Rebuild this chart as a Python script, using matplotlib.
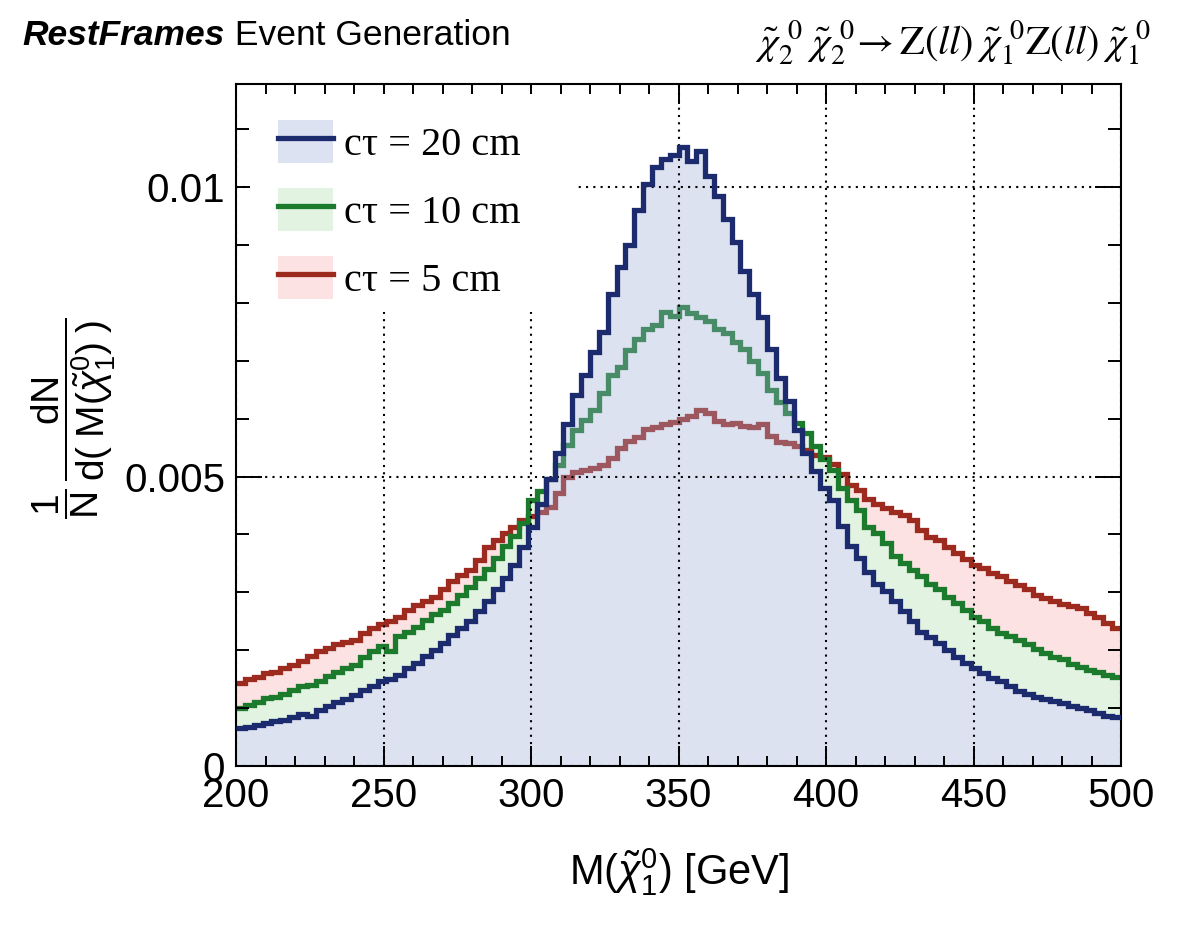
import numpy as np
import matplotlib
matplotlib.use("Agg")
import matplotlib.pyplot as plt
from matplotlib.patches import Patch, Rectangle
from matplotlib.lines import Line2D
from matplotlib.ticker import MultipleLocator
from matplotlib.transforms import offset_copy

plt.rcParams["font.family"] = ["Liberation Sans", "DejaVu Sans"]
plt.rcParams["mathtext.fontset"] = "custom"
plt.rcParams["mathtext.rm"] = "Liberation Sans"
plt.rcParams["mathtext.it"] = "Liberation Sans:italic"
plt.rcParams["mathtext.sf"] = "Liberation Sans"

# ── Data: 3 GeV bins from 200 to 500 GeV ────────────────────────────────────
edges = np.arange(200, 501, 3)

ctau20 = [0.00066, 0.00068, 0.00071, 0.00075, 0.00077, 0.00079, 0.00085, 0.00090, 0.00086, 0.00097,
          0.00103, 0.00110, 0.00115, 0.00122, 0.00131, 0.00139, 0.00146, 0.00150, 0.00158, 0.00170,
          0.00178, 0.00190, 0.00200, 0.00212, 0.00226, 0.00238, 0.00250, 0.00268, 0.00285, 0.00305,
          0.00325, 0.00348, 0.00378, 0.00412, 0.00452, 0.00495, 0.00540, 0.00590, 0.00640, 0.00675,
          0.00715, 0.00750, 0.00815, 0.00862, 0.00900, 0.00960, 0.01005, 0.01035, 0.01048, 0.01055,
          0.01070, 0.01045, 0.01062, 0.01020, 0.00985, 0.00945, 0.00905, 0.00855, 0.00815, 0.00775,
          0.00720, 0.00670, 0.00630, 0.00580, 0.00540, 0.00510, 0.00480, 0.00460, 0.00415, 0.00380,
          0.00360, 0.00335, 0.00315, 0.00302, 0.00285, 0.00268, 0.00250, 0.00232, 0.00222, 0.00212,
          0.00200, 0.00188, 0.00178, 0.00170, 0.00160, 0.00152, 0.00146, 0.00138, 0.00130, 0.00125,
          0.00120, 0.00116, 0.00112, 0.00108, 0.00103, 0.00100, 0.00096, 0.00092, 0.00086, 0.00084]

ctau10 = [0.00100, 0.00105, 0.00110, 0.00117, 0.00120, 0.00125, 0.00132, 0.00138, 0.00140, 0.00147,
          0.00155, 0.00162, 0.00170, 0.00175, 0.00188, 0.00198, 0.00208, 0.00198, 0.00225, 0.00232,
          0.00240, 0.00252, 0.00262, 0.00270, 0.00282, 0.00295, 0.00310, 0.00325, 0.00340, 0.00360,
          0.00380, 0.00398, 0.00420, 0.00460, 0.00475, 0.00495, 0.00520, 0.00555, 0.00580, 0.00598,
          0.00615, 0.00645, 0.00675, 0.00690, 0.00718, 0.00738, 0.00755, 0.00762, 0.00785, 0.00778,
          0.00792, 0.00782, 0.00776, 0.00768, 0.00755, 0.00748, 0.00732, 0.00720, 0.00700, 0.00678,
          0.00650, 0.00628, 0.00610, 0.00592, 0.00575, 0.00552, 0.00530, 0.00512, 0.00480, 0.00460,
          0.00442, 0.00412, 0.00402, 0.00385, 0.00362, 0.00350, 0.00338, 0.00328, 0.00315, 0.00305,
          0.00292, 0.00282, 0.00270, 0.00258, 0.00250, 0.00238, 0.00230, 0.00224, 0.00217, 0.00210,
          0.00202, 0.00196, 0.00189, 0.00184, 0.00176, 0.00171, 0.00166, 0.00162, 0.00158, 0.00154]

ctau5 = [0.00143, 0.00150, 0.00153, 0.00160, 0.00162, 0.00170, 0.00175, 0.00181, 0.00190, 0.00198,
         0.00204, 0.00210, 0.00215, 0.00218, 0.00230, 0.00238, 0.00246, 0.00250, 0.00258, 0.00270,
         0.00278, 0.00285, 0.00292, 0.00305, 0.00320, 0.00330, 0.00338, 0.00355, 0.00378, 0.00390,
         0.00402, 0.00412, 0.00425, 0.00432, 0.00438, 0.00448, 0.00472, 0.00500, 0.00508, 0.00512,
         0.00515, 0.00520, 0.00532, 0.00550, 0.00562, 0.00568, 0.00582, 0.00586, 0.00590, 0.00595,
         0.00600, 0.00604, 0.00615, 0.00610, 0.00596, 0.00590, 0.00592, 0.00588, 0.00585, 0.00590,
         0.00570, 0.00560, 0.00558, 0.00552, 0.00545, 0.00538, 0.00534, 0.00522, 0.00505, 0.00485,
         0.00477, 0.00462, 0.00452, 0.00445, 0.00438, 0.00434, 0.00425, 0.00408, 0.00396, 0.00390,
         0.00378, 0.00368, 0.00358, 0.00348, 0.00342, 0.00334, 0.00328, 0.00320, 0.00313, 0.00305,
         0.00296, 0.00290, 0.00285, 0.00280, 0.00277, 0.00273, 0.00265, 0.00257, 0.00247, 0.00238]

labels = ["c\u03c4 = 20 cm", "c\u03c4 = 10 cm", "c\u03c4 = 5 cm"]
line_colors = ["#1c2a6e", "#1b7a2c", "#9c2a1f"]
fill_colors = ["#9eacd7", "#e2f3e2", "#fce2e2"]

# ── Figure ───────────────────────────────────────────────────────────────────
fig = plt.figure(figsize=(11.82, 9.38), dpi=100)
ax = fig.add_axes([0.1997, 0.1834, 0.7487, 0.7270])

# fills: red, green, then white under blue so the blue overlay is uniform
ax.stairs(ctau5, edges, fill=True, color=fill_colors[2], zorder=1.0)
ax.stairs(ctau10, edges, fill=True, color=fill_colors[1], zorder=1.1)
ax.stairs(ctau20, edges, fill=True, color="white", zorder=1.2)
ax.stairs(ctau5, edges, baseline=None, color=line_colors[2], lw=3.8, zorder=1.3)
ax.stairs(ctau10, edges, baseline=None, color=line_colors[1], lw=3.8, zorder=1.4)
ax.stairs(ctau20, edges, fill=True, color=fill_colors[0], alpha=0.35, zorder=1.5)
ax.stairs(ctau20, edges, baseline=None, color=line_colors[0], lw=3.8, zorder=3)

ax.set_xlim(200, 500)
ax.set_ylim(0, 0.01178)

# ── Ticks / grid (ROOT style) ────────────────────────────────────────────────
ax.xaxis.set_major_locator(MultipleLocator(50))
ax.xaxis.set_minor_locator(MultipleLocator(10))
ax.yaxis.set_major_locator(MultipleLocator(0.005))
ax.yaxis.set_minor_locator(MultipleLocator(0.001))
ax.yaxis.set_major_formatter(plt.FuncFormatter(lambda v, p: "0" if v == 0 else f"{v:g}"))
ax.tick_params(axis="both", which="both", direction="in", top=True, right=True,
               width=1.4, labelsize=29)
ax.tick_params(axis="x", which="major", length=14.5, pad=8)
ax.tick_params(axis="x", which="minor", length=7.2)
ax.tick_params(axis="y", which="major", length=18.5, pad=8)
ax.tick_params(axis="y", which="minor", length=9.4)
for s in ax.spines.values():
    s.set_linewidth(1.5)

ax.set_axisbelow(False)
ax.grid(True, which="major", color="black", linestyle=(0, (1, 2.5)), lw=1.5)

# white box behind the legend hides the grid
ax.add_patch(Rectangle((0.016, 0.665), 0.369, 0.32, transform=ax.transAxes,
                       facecolor="white", edgecolor="none", zorder=4))

handles = [(Patch(facecolor=fc, edgecolor="none"), Line2D([], [], color=lc, lw=3.8))
           for fc, lc in zip(["#dce2f1", "#e2f3e2", "#fce2e2"], line_colors)]
leg = ax.legend(handles, labels, loc="upper left", bbox_to_anchor=(0.0475, 0.947),
                frameon=False, borderpad=0, borderaxespad=0,
                handlelength=1.375, handleheight=1.25, handletextpad=0.25,
                labelspacing=0.6, prop={"family": "Liberation Serif", "size": 29})
leg.set_zorder(5)

# ── Labels ───────────────────────────────────────────────────────────────────
ax.set_xlabel(r"M($\tilde{\chi}_{1}^{0}$) [GeV]", fontsize=30, labelpad=22)
ax.set_ylabel(r"$\dfrac{\mathrm{1}}{\mathrm{N}}\,\dfrac{\mathrm{dN}}"
              r"{\mathrm{d(\;M(}\tilde{\chi}_{1}^{0}\mathrm{)\;)}}$",
              fontsize=28)
ax.yaxis.set_label_coords(-0.133, 0.51)

t1 = fig.text(0.019, 0.952, "RestFrames", fontsize=25.5, fontweight="bold",
              fontstyle="italic", ha="left", va="baseline")
fig.canvas.draw()
w = t1.get_window_extent().width
fig.text(0.019, 0.952, " Event Generation", fontsize=25.5, ha="left", va="baseline",
         transform=offset_copy(fig.transFigure, fig=fig, x=w, units="dots"))

fig.text(0.973, 0.942,
         r"$\tilde{\chi}_{2}^{\;\,0}\;\tilde{\chi}_{2}^{\;\,0}\!\rightarrow \mathrm{Z}(ll)\;"
         r"\tilde{\chi}_{1}^{\;\,0}\mathrm{Z}(ll)\;\tilde{\chi}_{1}^{\;\,0}$",
         fontsize=29, ha="right", va="baseline", math_fontfamily="stix")

fig.savefig("out.png", dpi=100)
